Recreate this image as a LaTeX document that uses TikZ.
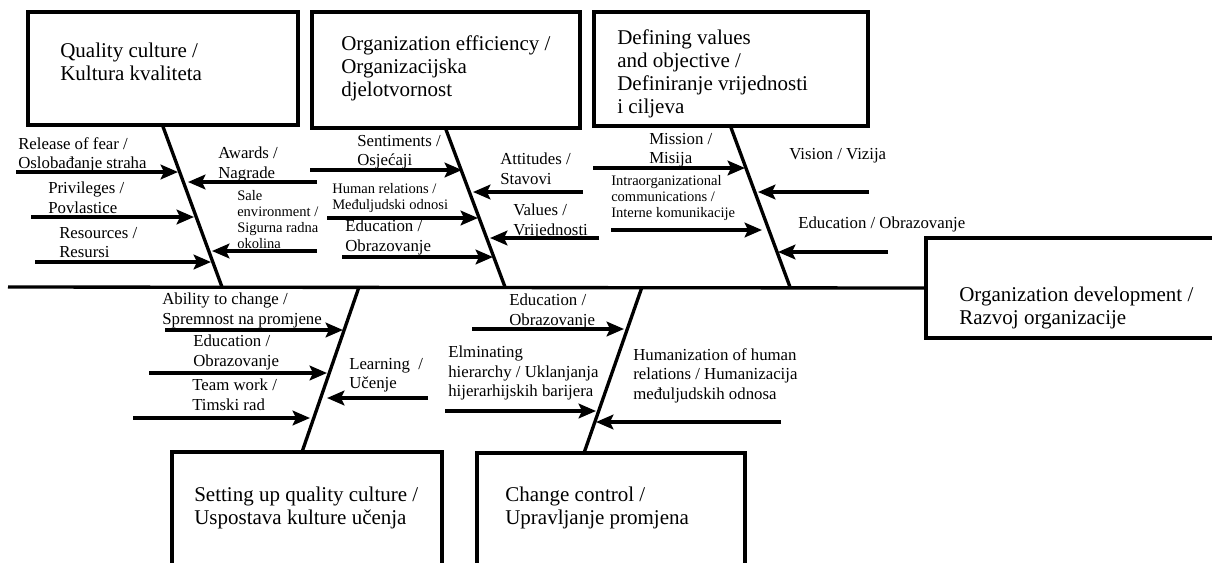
\documentclass[tikz,border=0pt]{standalone}
\usepackage{fontspec}
\setmainfont{Liberation Serif}
\usetikzlibrary{arrows.meta,fit}
\begin{document}
\begin{tikzpicture}[x=0.75pt,y=-0.75pt,
  box/.style={draw, line width=2.5pt, rectangle, inner sep=0pt},
  title/.style={anchor=north west, inner sep=0pt, align=left, font=\fontsize{15.75}{17.25}\selectfont},
  lbl/.style={anchor=north west, inner sep=0pt, align=left, font=\fontsize{12.6}{14.6}\selectfont},
  small/.style={anchor=north west, inner sep=0pt, align=left, font=\fontsize{10.9}{12}\selectfont},
  bone/.style={line width=2.5pt},
  cause/.style={line width=2.4pt, -{Stealth[length=13pt,width=11pt,inset=2.5pt]}},
]
\clip (0,0) rectangle (1212,562);
\useasboundingbox (0,0) rectangle (1212,562);

% ---- category boxes ----
\node[box, fit={(28,12) (298,125)}] (qc) {};
\node[box, fit={(312,12) (580,128)}] (oe) {};
\node[box, fit={(594,12) (868,126)}] (dv) {};
\node[box, fit={(172,452) (442,575)}] (sq) {};
\node[box, fit={(477,453) (745,575)}] (cc) {};
\node[box, fit={(926,238) (1220,338)}] (od) {};

\node[title] (tqc) at (60,43) {Quality culture /\\Kultura kvaliteta};
\node[title] (toe) at (341,35) {Organization efficiency /\\Organizacijska\\djelotvornost};
\node[title] (tdv) at (617,29) {Defining values\\and objective /\\Definiranje vrijednosti\\i ciljeva};
\node[title] (tsq) at (194,487) {Setting up quality culture /\\Uspostava kulture učenja};
\node[title] (tcc) at (505,487) {Change control /\\Upravljanje promjena};
\node[title] (tod) at (959,287) {Organization development /\\Razvoj organizacije};

% ---- spine and bones ----
\coordinate (head) at (8,287);
\draw[bone] (head) -- (od.west);
\coordinate (b1) at (222,287);
\coordinate (b2) at (505,287);
\coordinate (b3) at (790,287);
\coordinate (b4) at (359,287);
\coordinate (b5) at (642,287);
\coordinate (b4e) at (302,452);
\coordinate (b5e) at (584,453);
\draw[bone] (qc.south) -- (b1);
\draw[bone] (oe.south) -- (b2);
\draw[bone] (dv.south) -- (b3);
\draw[bone] (b4) -- (b4e);
\draw[bone] (b5) -- (b5e);

% ---- causes: Quality culture ----
\coordinate (r1s) at (16,172);  \coordinate (r1e) at (178,172);
\coordinate (r2s) at (31,217);  \coordinate (r2e) at (194,217);
\coordinate (r3s) at (35,262);  \coordinate (r3e) at (211,262);
\coordinate (r4s) at (317,182); \coordinate (r4e) at (188,182);
\coordinate (r5s) at (317,251); \coordinate (r5e) at (212,251);
\draw[cause] (r1s) -- (r1e);
\draw[cause] (r2s) -- (r2e);
\draw[cause] (r3s) -- (r3e);
\draw[cause] (r4s) -- (r4e);
\draw[cause] (r5s) -- (r5e);
\node[lbl] (l1) at (18,137) {Release of fear /\\Oslobađanje straha};
\node[lbl] (l2) at (48,182) {Privileges /\\Povlastice};
\node[lbl] (l3) at (59,227) {Resources /\\Resursi};
\node[lbl] (l4) at (218,147) {Awards /\\Nagrade};
\node[small] (l5) at (237,190) {Sale\\environment /\\Sigurna radna\\okolina};

% ---- causes: Organization efficiency ----
\coordinate (s1s) at (310,170); \coordinate (s1e) at (462,170);
\coordinate (s2s) at (327,218); \coordinate (s2e) at (478,218);
\coordinate (s3s) at (342,257); \coordinate (s3e) at (493,257);
\coordinate (s4s) at (583,192); \coordinate (s4e) at (473,192);
\coordinate (s5s) at (599,238); \coordinate (s5e) at (490,238);
\draw[cause] (s1s) -- (s1e);
\draw[cause] (s2s) -- (s2e);
\draw[cause] (s3s) -- (s3e);
\draw[cause] (s4s) -- (s4e);
\draw[cause] (s5s) -- (s5e);
\node[lbl] (m1) at (357,135) {Sentiments /\\Osjećaji};
\node[small] (m2) at (332,183) {Human relations /\\Međuljudski odnosi};
\node[lbl] (m3) at (345,220) {Education /\\Obrazovanje};
\node[lbl] (m4) at (500,153) {Attitudes /\\Stavovi};
\node[lbl] (m5) at (513,204) {Values /\\Vrijednosti};

% ---- causes: Defining values and objective ----
\coordinate (t1s) at (593,168); \coordinate (t1e) at (745,168);
\coordinate (t2s) at (611,230); \coordinate (t2e) at (762,230);
\coordinate (t3s) at (869,192); \coordinate (t3e) at (758,192);
\coordinate (t4s) at (888,252); \coordinate (t4e) at (778,252);
\draw[cause] (t1s) -- (t1e);
\draw[cause] (t2s) -- (t2e);
\draw[cause] (t3s) -- (t3e);
\draw[cause] (t4s) -- (t4e);
\node[lbl] (n1) at (649,133) {Mission /\\Misija};
\node[small] (n2) at (611,175) {Intraorganizational\\communications /\\Interne komunikacije};
\node[lbl] (n3) at (789,148) {Vision / Vizija};
\node[lbl] (n4) at (798,217) {Education / Obrazovanje};

% ---- causes: Setting up quality culture ----
\coordinate (u1s) at (165,330); \coordinate (u1e) at (343,330);
\coordinate (u2s) at (149,373); \coordinate (u2e) at (327,373);
\coordinate (u3s) at (133,418); \coordinate (u3e) at (310,418);
\coordinate (u4s) at (428,398); \coordinate (u4e) at (327,398);
\draw[cause] (u1s) -- (u1e);
\draw[cause] (u2s) -- (u2e);
\draw[cause] (u3s) -- (u3e);
\draw[cause] (u4s) -- (u4e);
\node[lbl] (p1) at (162,293) {Ability to change /\\Spremnost na promjene};
\node[lbl] (p2) at (193,335) {Education /\\Obrazovanje};
\node[lbl] (p3) at (192,379) {Team work /\\Timski rad};
\node[lbl] (p4) at (349,358) {Learning~ /\\Učenje};

% ---- causes: Change control ----
\coordinate (v1s) at (472,329); \coordinate (v1e) at (624,329);
\coordinate (v2s) at (445,411); \coordinate (v2e) at (596,411);
\coordinate (v3s) at (781,422); \coordinate (v3e) at (596,422);
\draw[cause] (v1s) -- (v1e);
\draw[cause] (v2s) -- (v2e);
\draw[cause] (v3s) -- (v3e);
\node[lbl] (q1) at (509,294) {Education /\\Obrazovanje};
\node[lbl] (q2) at (448,346) {Elminating\\hierarchy / Uklanjanja\\hijerarhijskih barijera};
\node[lbl] (q3) at (633,348) {Humanization of human\\relations / Humanizacija\\međuljudskih odnosa};
\end{tikzpicture}
\end{document}
